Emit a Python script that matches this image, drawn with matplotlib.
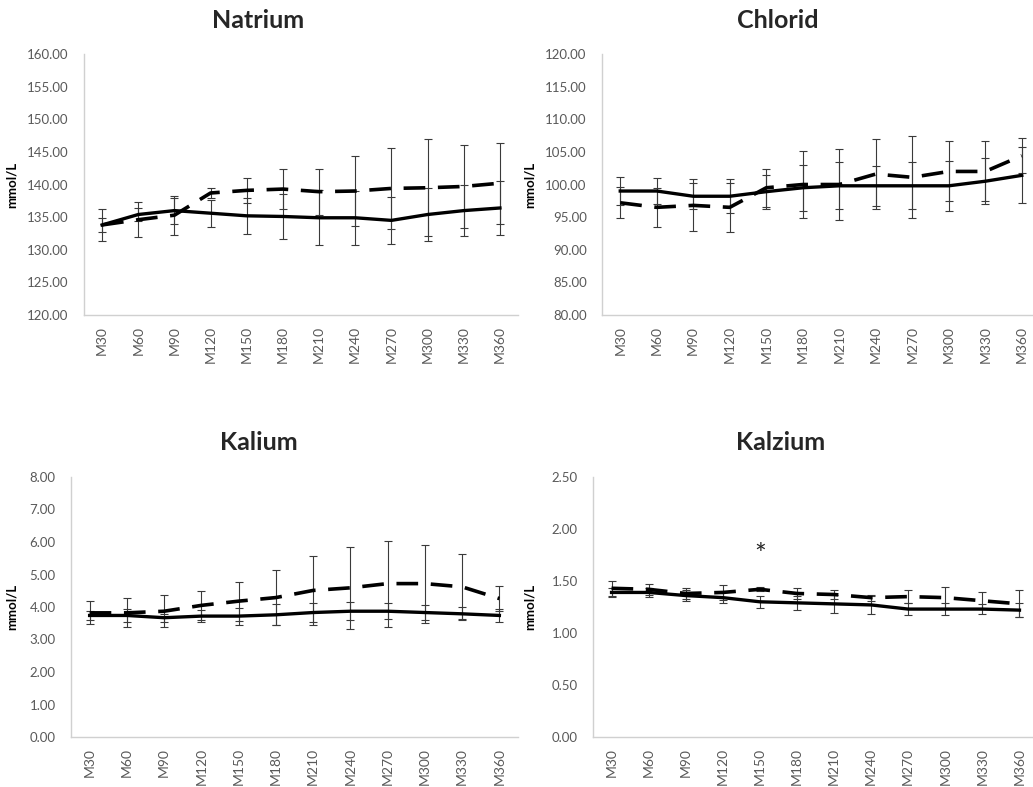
import matplotlib
matplotlib.use("Agg")
import matplotlib.pyplot as plt
from matplotlib.ticker import FormatStrFormatter

W, H = 1033, 787

times = ["M30", "M60", "M90", "M120", "M150", "M180",
         "M210", "M240", "M270", "M300", "M330", "M360"]

# Natrium
na_solid = [133.8, 135.4, 136.0, 135.6, 135.2, 135.1, 134.9, 134.9, 134.5, 135.4, 136.0, 136.4]
na_solid_err = [2.5, 1.0, 2.0, 2.1, 2.8, 3.4, 4.2, 4.1, 3.6, 4.1, 3.9, 4.1]
na_dash = [133.8, 134.6, 135.3, 138.7, 139.1, 139.3, 138.9, 139.0, 139.4, 139.5, 139.7, 140.2]
na_dash_err = [1.1, 2.7, 3.0, 0.7, 1.9, 3.0, 3.5, 5.3, 6.2, 7.4, 6.4, 6.2]

# Chlorid
cl_solid = [99.0, 99.0, 98.2, 98.2, 98.9, 99.5, 99.8, 99.8, 99.8, 99.8, 100.5, 101.4]
cl_solid_err = [2.2, 2.0, 2.0, 2.6, 2.6, 3.5, 3.6, 3.1, 3.6, 3.8, 3.5, 4.3]
cl_dash = [97.2, 96.5, 96.8, 96.5, 99.5, 100.0, 100.0, 101.6, 101.1, 102.0, 102.0, 104.4]
cl_dash_err = [2.4, 3.0, 4.0, 3.8, 2.9, 5.2, 5.4, 5.3, 6.3, 4.6, 4.6, 2.7]

# Kalium
k_solid = [3.74, 3.74, 3.67, 3.72, 3.72, 3.76, 3.83, 3.87, 3.87, 3.83, 3.79, 3.74]
k_solid_err = [0.15, 0.20, 0.12, 0.18, 0.26, 0.32, 0.30, 0.28, 0.25, 0.24, 0.20, 0.20]
k_dash = [3.82, 3.82, 3.87, 4.05, 4.18, 4.29, 4.51, 4.59, 4.72, 4.72, 4.62, 4.26]
k_dash_err = [0.35, 0.45, 0.50, 0.45, 0.60, 0.85, 1.07, 1.27, 1.32, 1.20, 1.00, 0.38]

# Kalzium
ca_solid = [1.39, 1.39, 1.36, 1.34, 1.30, 1.29, 1.28, 1.27, 1.23, 1.23, 1.23, 1.22]
ca_solid_err = [0.04, 0.04, 0.05, 0.05, 0.06, 0.07, 0.09, 0.09, 0.06, 0.06, 0.05, 0.07]
ca_dash = [1.43, 1.42, 1.38, 1.39, 1.42, 1.38, 1.37, 1.34, 1.35, 1.34, 1.31, 1.28]
ca_dash_err = [0.07, 0.05, 0.05, 0.07, 0.02, 0.05, 0.04, 0.03, 0.06, 0.10, 0.08, 0.13]

panels = [
    ("Natrium", na_solid, na_solid_err, na_dash, na_dash_err, (120, 160), 5, (84, 518, 54, 315), 258, 20),
    ("Chlorid", cl_solid, cl_solid_err, cl_dash, cl_dash_err, (80, 120), 5, (602, 1040, 54, 315), 778, 20),
    ("Kalium", k_solid, k_solid_err, k_dash, k_dash_err, (0, 8), 1, (71, 518, 477, 737), 259, 442),
    ("Kalzium", ca_solid, ca_solid_err, ca_dash, ca_dash_err, (0, 2.5), 0.5, (593, 1038, 477, 737), 781, 442),
]

plt.rcParams["font.family"] = ["Lato", "DejaVu Sans"]
fig = plt.figure(figsize=(W / 100, H / 100), dpi=100)

x = list(range(len(times)))
for title, s, se, d, de, ylim, step, (l, r, t, b), tx, ty in panels:
    ax = fig.add_axes([l / W, 1 - b / H, (r - l) / W, (b - t) / H])
    ax.errorbar(x, d, yerr=de, fmt="none", ecolor="#3a3a3a", elinewidth=0.8,
                capsize=3, capthick=0.8, zorder=2)
    ax.errorbar(x, s, yerr=se, fmt="none", ecolor="#3a3a3a", elinewidth=0.8,
                capsize=3, capthick=0.8, zorder=2)
    ax.plot(x, d, color="black", lw=2.6, dashes=(6, 3.5), zorder=3)
    ax.plot(x, s, color="black", lw=2.4, zorder=3)
    ax.set_xlim(-0.5, len(times) - 0.5)
    ax.set_ylim(*ylim)
    n = int(round((ylim[1] - ylim[0]) / step))
    ax.set_yticks([ylim[0] + i * step for i in range(n + 1)])
    ax.yaxis.set_major_formatter(FormatStrFormatter("%.2f"))
    ax.set_xticks(x)
    ax.set_xticklabels(times, rotation=90)
    ax.tick_params(axis="y", length=0, labelsize=9.5, colors="#595959", pad=11)
    ax.tick_params(axis="x", length=0, labelsize=10, colors="#595959", pad=8)
    for side in ("top", "right"):
        ax.spines[side].set_visible(False)
    for side in ("left", "bottom"):
        ax.spines[side].set_color("#d0d0d0")
        ax.spines[side].set_linewidth(1.0)
    ax.set_ylabel("mmol/L", fontsize=9.5, fontweight="bold", color="black")
    ax.yaxis.set_label_coords((18 - l) / (r - l) if l < 300 else (536 - l) / (r - l), 0.5)
    fig.text(tx / W, 1 - ty / H, title, fontsize=18, fontweight="bold",
             color="#262626", ha="center", va="center")
    if title == "Kalzium":
        ax.text(4, 1.74, "*", fontsize=20, ha="center", va="center", color="#262626")

fig.savefig("out.png", dpi=100)
